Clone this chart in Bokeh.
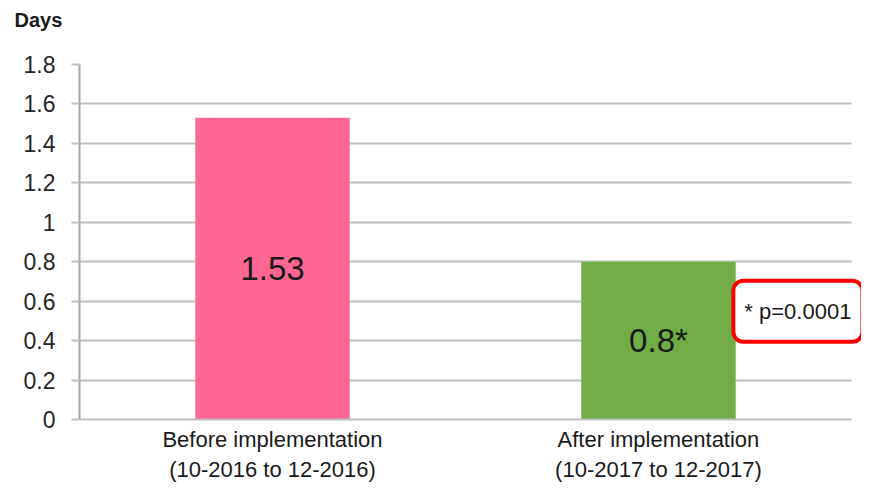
from bokeh.plotting import figure
from bokeh.models import Range1d, FixedTicker, Label, ColumnDataSource
from bokeh.core.properties import value
from bokeh.embed import file_html
from bokeh.resources import INLINE

categories = ["Before implementation\n(10-2016 to 12-2016)",
              "After implementation\n(10-2017 to 12-2017)"]
values = [1.53, 0.8]
bar_labels = ["1.53", "0.8*"]
bar_colors = ["#FF6694", "#70AD47"]
y_ticks = [0, 0.2, 0.4, 0.6, 0.8, 1.0, 1.2, 1.4, 1.6, 1.8]
y_tick_labels = ["0", "0.2", "0.4", "0.6", "0.8", "1", "1.2", "1.4", "1.6", "1.8"]
y_title = "Days"
note_text = "* p=0.0001"

FONT = "Liberation Sans"

# category slots are unit-wide; the extra room on the right holds the p-value note
x_pos = [i + 0.5 for i in range(len(categories))]
n_cat = len(categories)

p = figure(width=861, height=484, output_backend="svg", toolbar_location=None,
           x_range=Range1d(0, 2.026), y_range=Range1d(0, 1.8),
           min_border_left=79, min_border_right=0, min_border_top=64,
           min_border_bottom=40)
p.outline_line_color = None
p.background_fill_color = "white"
p.border_fill_color = "white"

src = ColumnDataSource(dict(x=x_pos, val=values, half=[v / 2 for v in values],
                            lab=bar_labels, col=bar_colors))
p.vbar(x="x", top="val", width=0.4, fill_color="col", line_color=None, source=src)
p.text(x="x", y="half", text="lab", source=src, text_align="center",
       text_baseline="middle", text_font=value(FONT), text_font_size="33px",
       text_color="#1a1a1a")

# axes
p.yaxis.ticker = FixedTicker(ticks=y_ticks)
p.yaxis.major_label_overrides = {t: l for t, l in zip(y_ticks, y_tick_labels)}
p.yaxis.major_label_text_font = FONT
p.yaxis.major_label_text_font_size = "23px"
p.yaxis.major_label_text_color = "#262626"
p.yaxis.major_label_standoff = 16
p.yaxis.major_tick_out = 8
p.yaxis.major_tick_in = 0
p.yaxis.minor_tick_line_color = None
p.yaxis.major_tick_line_color = "#bfbfbf"
p.yaxis.major_tick_line_width = 2
p.yaxis.axis_line_color = "#a6a6a6"
p.yaxis.axis_line_width = 2

p.xaxis.ticker = FixedTicker(ticks=x_pos)
p.xaxis.major_label_overrides = {x: c for x, c in zip(x_pos, categories)}
p.xaxis.bounds = (0, n_cat)
p.xaxis.major_label_text_font = FONT
p.xaxis.major_label_text_font_size = "22px"
p.xaxis.major_label_text_color = "#1a1a1a"
p.xaxis.major_label_text_line_height = 1.2
p.xaxis.major_label_standoff = 1
p.xaxis.major_tick_line_color = None
p.xaxis.minor_tick_line_color = None
p.xaxis.axis_line_color = "#bfbfbf"
p.xaxis.axis_line_width = 2

p.xgrid.grid_line_color = None
p.ygrid.grid_line_color = "#bfbfbf"
p.ygrid.grid_line_width = 2
p.ygrid.cross_bounds = (0, n_cat)

# "Days" axis title
p.title.text = y_title
p.title.align = "left"
p.title.offset = -65
p.title.standoff = 4
p.title.padding = dict(left=0, right=0, top=0, bottom=32)
p.title.text_font = FONT
p.title.text_font_style = "bold"
p.title.text_font_size = "20px"
p.title.text_color = "#1a1a1a"

# p-value note box
p.add_layout(Label(x=1.694, y=0.549, text=note_text, text_font=FONT,
                   text_font_size="22px", text_color="#1a1a1a",
                   text_align="left", text_baseline="middle",
                   background_fill_color="white", border_line_color="#FF0000",
                   border_line_width=4, border_radius=10, padding=(11, 18)))

open("out.html", "w").write(file_html(p, INLINE))
